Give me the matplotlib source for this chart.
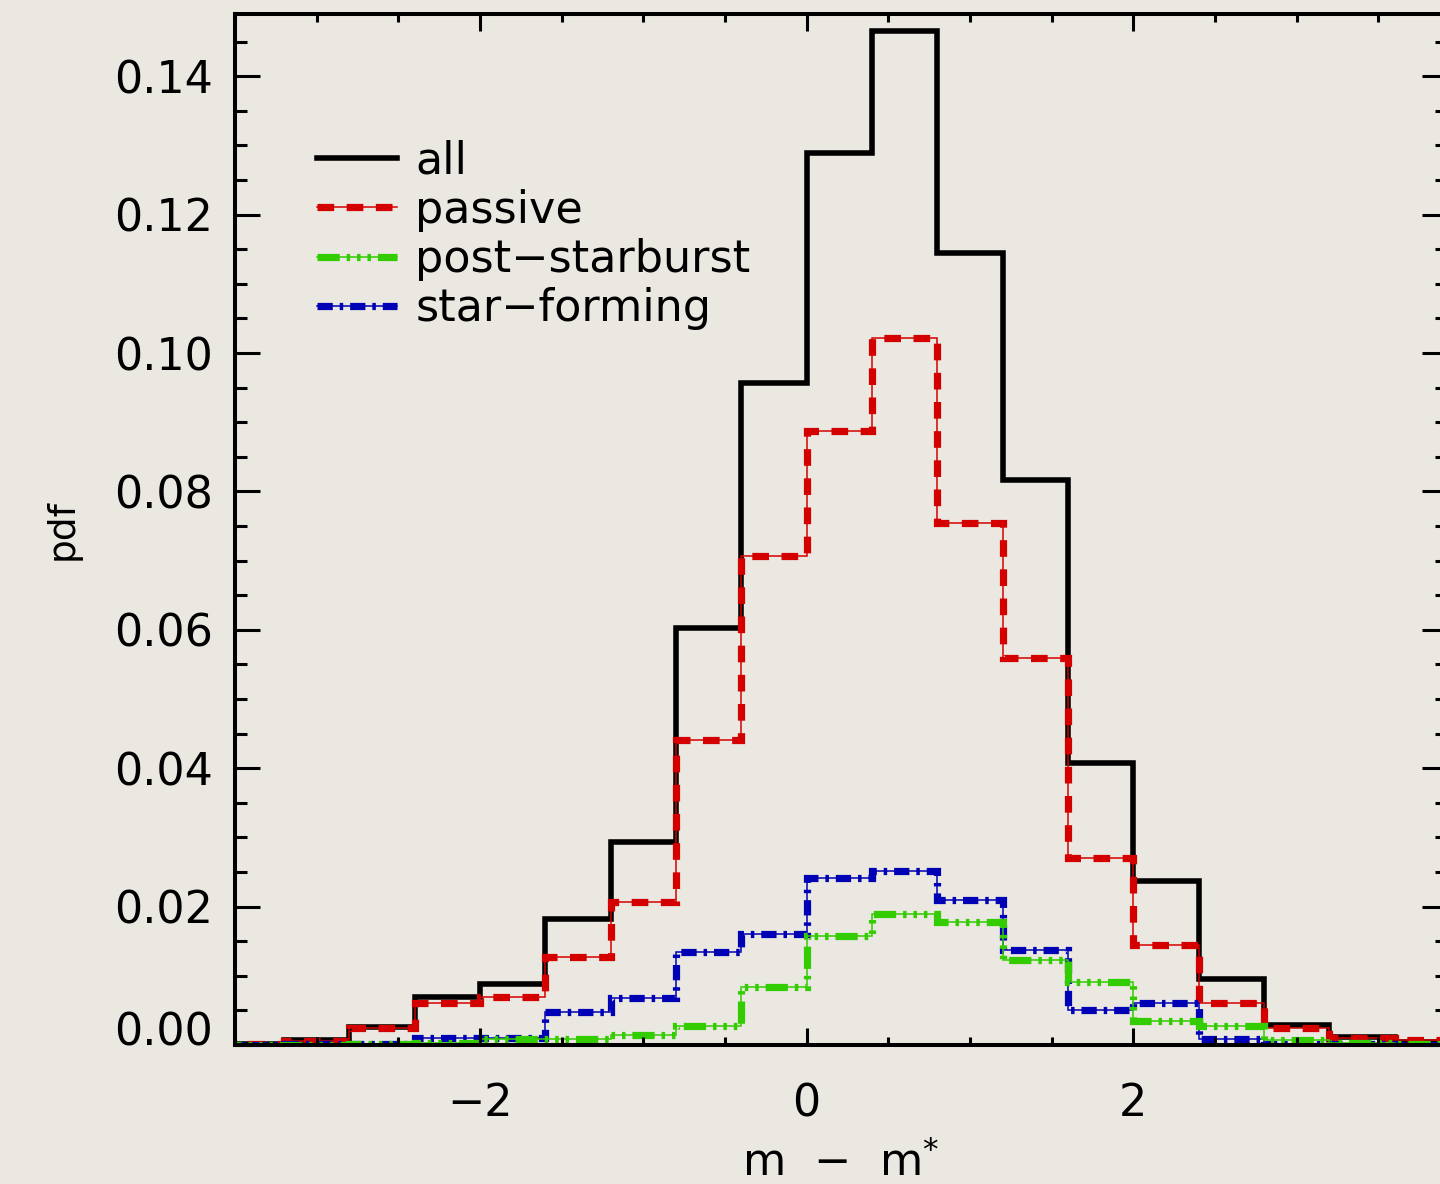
import matplotlib
matplotlib.use("Agg")
import matplotlib.pyplot as plt
from matplotlib.lines import Line2D
from matplotlib.ticker import MultipleLocator, FormatStrFormatter
import numpy as np

# bin edges of m - m* (width 0.4)
edges = np.arange(-3.6, 4.01, 0.4)

pdf_all = [0.0002, 0.0007, 0.0026, 0.0069, 0.0088, 0.0182, 0.0294, 0.0602, 0.0957, 0.1289,
           0.1465, 0.1145, 0.0817, 0.0408, 0.0237, 0.0095, 0.0029, 0.0012, 0.0005]
pdf_passive = [0.0001, 0.0006, 0.0025, 0.0061, 0.0069, 0.0127, 0.0207, 0.0441, 0.0706, 0.0887,
               0.1022, 0.0755, 0.0560, 0.0270, 0.0145, 0.0060, 0.0025, 0.0010, 0.0007]
pdf_psb = [0.0, 0.0, 0.0001, 0.0003, 0.0008, 0.0008, 0.0014, 0.0027, 0.0084, 0.0158,
           0.0190, 0.0178, 0.0123, 0.0091, 0.0034, 0.0027, 0.0007, 0.0003, 0.0002]
pdf_sf = [0.0, 0.0001, 0.0002, 0.0010, 0.0010, 0.0048, 0.0068, 0.0135, 0.0160, 0.0241,
          0.0251, 0.0210, 0.0137, 0.0051, 0.0060, 0.0008, 0.0002, 0.0001, 0.0]

labels = ["all", "passive", "post\u2212starburst", "star\u2212forming"]

RED = "#d40000"
GREEN = "#33cc00"
BLUE = "#0000b4"
dash_red = (0, (12, 9))
dash_green = (0, (16, 5, 2.5, 5, 2.5, 5, 2.5, 5))
dash_blue = (0, (11, 5, 2.5, 5))

plt.rcParams["font.family"] = ["DejaVu Sans"]
plt.rcParams["lines.scale_dashes"] = False

fig = plt.figure(figsize=(14.4, 11.84), dpi=100, facecolor="#ebe8e2")
ax = fig.add_axes([235 / 1440, 139 / 1184, 1212 / 1440, 1031 / 1184])
ax.set_facecolor("none")

ax.stairs(pdf_all, edges, baseline=None, color="black", lw=4.0)

ax.stairs(pdf_passive, edges, baseline=None, color=RED, lw=1.1)
ax.stairs(pdf_passive, edges, baseline=None, color=RED, lw=5.2, linestyle=dash_red)

ax.stairs(pdf_sf, edges, baseline=None, color=BLUE, lw=1.1)
ax.stairs(pdf_sf, edges, baseline=None, color=BLUE, lw=5.2, linestyle=dash_blue)

ax.stairs(pdf_psb, edges, baseline=None, color=GREEN, lw=1.1)
ax.stairs(pdf_psb, edges, baseline=None, color=GREEN, lw=5.2, linestyle=dash_green)

ax.set_xlim(-3.5, 3.92)
ax.set_ylim(0, 0.149)

ax.xaxis.set_major_locator(MultipleLocator(2))
ax.xaxis.set_minor_locator(MultipleLocator(0.5))
ax.yaxis.set_major_locator(MultipleLocator(0.02))
ax.yaxis.set_minor_locator(MultipleLocator(0.005))
ax.yaxis.set_major_formatter(FormatStrFormatter("%.2f"))

ax.tick_params(axis="both", which="both", direction="in", top=True, right=True,
               width=2.2, labelsize=32, colors="black")
ax.tick_params(axis="x", which="major", length=12, pad=27)
ax.tick_params(axis="x", which="minor", length=6)
ax.tick_params(axis="y", which="major", length=18, pad=16)
ax.tick_params(axis="y", which="minor", length=8.5)
for s in ax.spines.values():
    s.set_linewidth(2.9)

ax.set_xlabel("m  \u2212  m$^{*}$", fontsize=32, labelpad=11)
ax.set_ylabel("pdf", fontsize=27, labelpad=24)

handles = [
    Line2D([], [], color="black", lw=4.0),
    (Line2D([], [], color=RED, lw=1.1), Line2D([], [], color=RED, lw=5.2, linestyle=dash_red)),
    (Line2D([], [], color=GREEN, lw=1.1), Line2D([], [], color=GREEN, lw=5.2, linestyle=dash_green)),
    (Line2D([], [], color=BLUE, lw=1.1), Line2D([], [], color=BLUE, lw=5.2, linestyle=dash_blue)),
]
ax.legend(handles, labels, loc="upper left", bbox_to_anchor=(0.068, 0.878), frameon=False,
          fontsize=32, handlelength=1.8, handletextpad=0.4, labelspacing=0.14,
          borderaxespad=0, borderpad=0)

# the bottom y label sits just above the axis, as in the original
fig.canvas.draw()
for lab in ax.get_yticklabels():
    if lab.get_text() == "0.00":
        lab.set_verticalalignment("baseline")

fig.savefig("out.png", dpi=100, facecolor=fig.get_facecolor())
